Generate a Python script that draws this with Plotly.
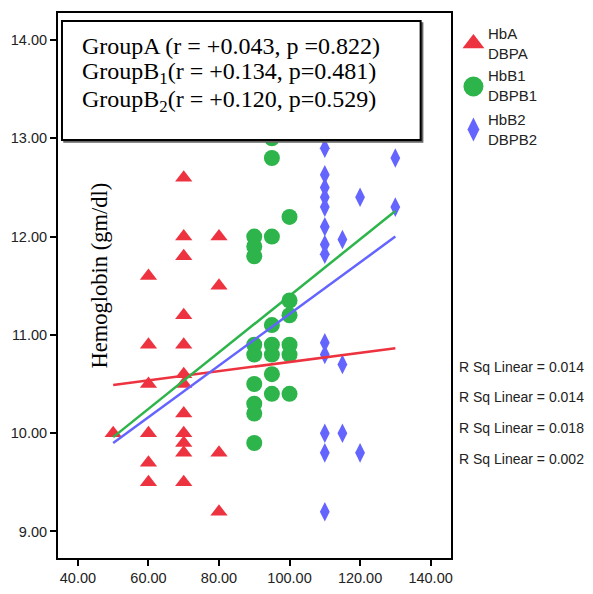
import plotly.graph_objects as go

# ---------------- data ----------------
a_x = [50, 60, 60, 60, 60, 60, 60,
       70, 70, 70, 70, 70, 70, 70, 70, 70, 70, 70, 70,
       80, 80, 80, 80]
a_y = [10.0, 11.6, 10.9, 10.5, 10.0, 9.7, 9.5,
       12.6, 12.0, 11.8, 11.2, 10.9, 10.6, 10.5, 10.2, 10.0, 9.9, 9.8, 9.5,
       12.0, 11.5, 9.8, 9.2]

b1_x = [90, 90, 90, 90, 90, 90, 90, 90, 90,
        95, 95, 95, 95, 95, 95, 95, 95,
        100, 100, 100, 100, 100, 100]
b1_y = [12.0, 11.9, 11.8, 10.9, 10.8, 10.5, 10.3, 10.2, 9.9,
        13.0, 12.8, 12.0, 11.1, 10.9, 10.8, 10.6, 10.4,
        12.2, 11.35, 11.2, 10.9, 10.8, 10.4]

b2_x = [110, 110, 110, 110, 110, 110, 110, 110, 110, 110, 110, 110, 110,
        115, 115, 115, 120, 120, 130, 130]
b2_y = [12.9, 12.63, 12.5, 12.4, 12.3, 12.1, 11.92, 11.82, 10.92, 10.8, 10.0, 9.8, 9.2,
        11.97, 10.7, 10.0, 12.4, 9.8, 12.8, 12.3]

fit_x = [50, 130]
fit_a = [10.49, 10.865]
fit_b1 = [9.96, 12.26]
fit_b2 = [9.90, 12.0]

legend_names = ["HbA<br>DBPA", "HbB1<br>DBPB1", "HbB2<br>DBPB2"]
rsq_labels = ["R Sq Linear = 0.014", "R Sq Linear = 0.014",
              "R Sq Linear = 0.018", "R Sq Linear = 0.002"]
stats_lines = ["GroupA (r = +0.043, p =0.822)",
               "GroupB<sub>1</sub>(r = +0.134, p=0.481)",
               "GroupB<sub>2</sub>(r = +0.120, p=0.529)"]
x_ticks = [40, 60, 80, 100, 120, 140]
y_ticks = [9, 10, 11, 12, 13, 14]

RED = "#EE3340"
GREEN = "#2DB44B"
BLUE = "#6464FF"

# ---------------- layout helpers (screen pixel -> paper) ----------------
OFF = 8                      # default page body margin
W, H = 585, 586
ML, MR, MT, MB = 50, 1, 5, 36
PW, PH = W - ML - MR, H - MT - MB


def px(X):
    return (X - OFF - ML) / PW


def py(Y):
    return (H - MB - (Y - OFF)) / PH


SANS = "Liberation Sans, Arial"
SERIF = "Liberation Serif, Times New Roman"

fig = go.Figure()

fig.add_trace(go.Scatter(x=a_x, y=a_y, mode="markers",
                         marker=dict(symbol="triangle-up", size=15, color=RED),
                         showlegend=False))
fig.add_trace(go.Scatter(x=b1_x, y=b1_y, mode="markers",
                         marker=dict(symbol="circle", size=16, color=GREEN),
                         showlegend=False))
fig.add_trace(go.Scatter(x=b2_x, y=b2_y, mode="markers",
                         marker=dict(symbol="diamond-tall", size=14, color=BLUE),
                         showlegend=False))

for fy, col in [(fit_a, RED), (fit_b1, GREEN), (fit_b2, BLUE)]:
    fig.add_trace(go.Scatter(x=fit_x, y=fy, mode="lines",
                             line=dict(color=col, width=2.5), showlegend=False))

# legend markers on a side axis in screen-pixel units
leg_y = [43.5, 86.5, 129.5]
leg_sym = [("triangle-up", 19, RED), ("circle", 20, GREEN), ("diamond-tall", 17, BLUE)]
for (sym, sz, col), ly in zip(leg_sym, leg_y):
    fig.add_trace(go.Scatter(x=[475], y=[ly], mode="markers", xaxis="x2", yaxis="y2",
                             marker=dict(symbol=sym, size=sz, color=col),
                             showlegend=False, hoverinfo="skip"))

axis_common = dict(ticks="outside", ticklen=6, tickwidth=2, tickcolor="black",
                   showline=True, linewidth=2, linecolor="black", mirror=True,
                   showgrid=False, zeroline=False, tickformat=".2f",
                   tickfont=dict(family=SANS, size=14.5, color="#222"))

fig.update_layout(
    width=W, height=H,
    margin=dict(l=ML, r=MR, t=MT, b=MB),
    paper_bgcolor="white", plot_bgcolor="white",
    showlegend=False,
    xaxis=dict(domain=[0, px(452)], range=[34.35, 145.65], tickvals=x_ticks, **axis_common),
    yaxis=dict(range=[8.73, 14.275], tickvals=y_ticks, **axis_common),
    xaxis2=dict(domain=[px(456), 1], range=[456, OFF + W - MR], visible=False,
                fixedrange=True, anchor="y2"),
    yaxis2=dict(domain=[0, 1], range=[OFF + H - MB, OFF + MT], visible=False,
                fixedrange=True, anchor="x2"),
)

# stats box (with slight shadow)
fig.add_shape(type="rect", xref="paper", yref="paper",
              x0=px(64), x1=px(424), y0=py(142), y1=py(23),
              line=dict(color="#666", width=1.5), fillcolor="#666", layer="above")
fig.add_shape(type="rect", xref="paper", yref="paper",
              x0=px(62), x1=px(422), y0=py(140), y1=py(21),
              line=dict(color="black", width=2), fillcolor="white", layer="above")

for line, ly in zip(stats_lines, [46, 73.5, 101]):
    fig.add_annotation(xref="paper", yref="paper", x=px(80), y=py(ly),
                       xanchor="left", yanchor="middle", align="left", showarrow=False,
                       text=line,
                       font=dict(family=SERIF, size=24, color="black"))

# y axis title inside plot
fig.add_annotation(xref="paper", yref="paper", x=px(85), y=py(275),
                   textangle=-90, showarrow=False,
                   text="Hemoglobin (gm/dl)",
                   font=dict(family=SERIF, size=22.5, color="black"))

# legend texts
for name, ly in zip(legend_names, [43, 85, 129]):
    fig.add_annotation(xref="paper", yref="paper", x=px(488), y=py(ly),
                       xanchor="left", yanchor="middle", align="left", showarrow=False,
                       text=name,
                       font=dict(family=SANS, size=15, color="#222"))

# R sq labels
for lab, ry in zip(rsq_labels, [367, 397, 428, 459]):
    fig.add_annotation(xref="paper", yref="paper", x=px(459), y=py(ry),
                       xanchor="left", yanchor="middle", showarrow=False,
                       text=lab,
                       font=dict(family=SANS, size=14, color="#222"))

fig.write_html("out.html")
